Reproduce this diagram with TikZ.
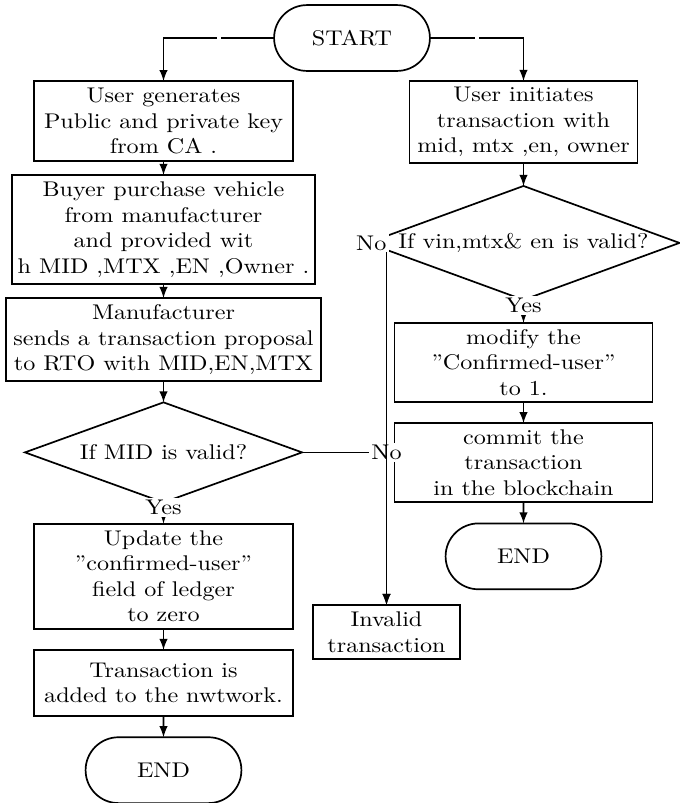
\documentclass[tikz,border=0pt]{standalone}
\usepackage{fontspec}
\setmainfont{lmroman10-regular.otf}[FakeStretch=1.135]
\usetikzlibrary{positioning,shapes,arrows}

\begin{document}
\begin{tikzpicture}[x=0.4706pt,y=-0.4706pt,>=latex,thick,node distance=10pt]
		\tikzstyle{block} = [rectangle,draw=black,align=center,inner sep=2pt,outer sep=0pt]
		\tikzstyle{term} = [rounded rectangle,draw=black,minimum width=80pt,minimum height=31pt,outer sep=0pt]
		\tikzstyle{decision} = [diamond,draw=black,aspect=2.75,inner sep=0pt,outer sep=0pt]
		\tikzstyle{lbl} = [fill=white,inner sep=1pt]
		
		\useasboundingbox (0,0) rectangle (680,803);
		
		\node[term] (start) at (352,38) {START};
		
		% left side
		\node[block,minimum width=121.9pt,minimum height=37.6pt] (gen) at (163.5,121) {User generates\\Public and private key\\from CA .};
		\node[block,below=6.6pt of gen,minimum width=142.6pt,minimum height=51.3pt] (buy) {Buyer purchase vehicle\\from manufacturer\\and provided wit\\h MID ,MTX ,EN ,Owner .};
		\node[block,below=6.6pt of buy,minimum width=148.2pt,minimum height=39.1pt] (manu) {Manufacturer\\sends a transaction proposal\\to RTO with MID,EN,MTX};
		\node[decision,below=of manu,minimum width=130.4pt,minimum height=47.1pt] (mid) {If MID is valid?};
		\node[block,below=of mid,minimum width=121.9pt,minimum height=49.4pt] (upd) {Update the\\''confirmed-user''\\field of ledger\\to zero};
		\node[block,below=of upd,minimum width=121.9pt,minimum height=31.1pt] (added) {Transaction is\\added to the nwtwork.};
		\node[term,below=of added] (endl) {END};
		
		% right side
		\node[block,minimum width=107.3pt,minimum height=38.6pt] (init) at (523.5,122) {User initiates\\transaction with\\mid, mtx ,en, owner};
		\node[decision,below=10.8pt of init,minimum width=146.8pt,minimum height=53.6pt] (vin) {If vin,mtx\& en is valid?};
		\node[block,below=10.8pt of vin,minimum width=121.4pt,minimum height=37.2pt] (modify) {modify the\\''Confirmed-user''\\to 1.};
		\node[block,below=of modify,minimum width=121.4pt,minimum height=37.2pt] (commit) {commit the\\transaction\\in the blockchain};
		\node[term,below=of commit] (endr) {END};
		
		\node[block,minimum width=69.2pt,minimum height=25.4pt] (inv) at (386.5,632) {Invalid\\transaction};
		
		\draw[->] (start) -| node[near start,lbl]{} (gen);
		\draw[->] (start) -| node[near start,lbl]{} (init);
		
		\draw[->] (gen) -- (buy);
		\draw[->] (buy) -- (manu);
		\draw[->] (manu) -- (mid);
		\draw[->] (mid) -- node[near start,lbl]{Yes} (upd);
		\draw[->] (upd) -- (added);
		\draw[->] (added) -- (endl);
		\draw[->] (mid) -| node[lbl]{No} (inv);
		
		\draw[->] (init) -- (vin);
		\draw[->] (vin) -- node[near start,lbl]{Yes} (modify);
		\draw[->] (modify) -- (commit);
		\draw[->] (commit) -- (endr);
		\draw[->] (vin) -| node[pos=0.1,lbl]{No} (inv);
	\end{tikzpicture}
\end{document}
